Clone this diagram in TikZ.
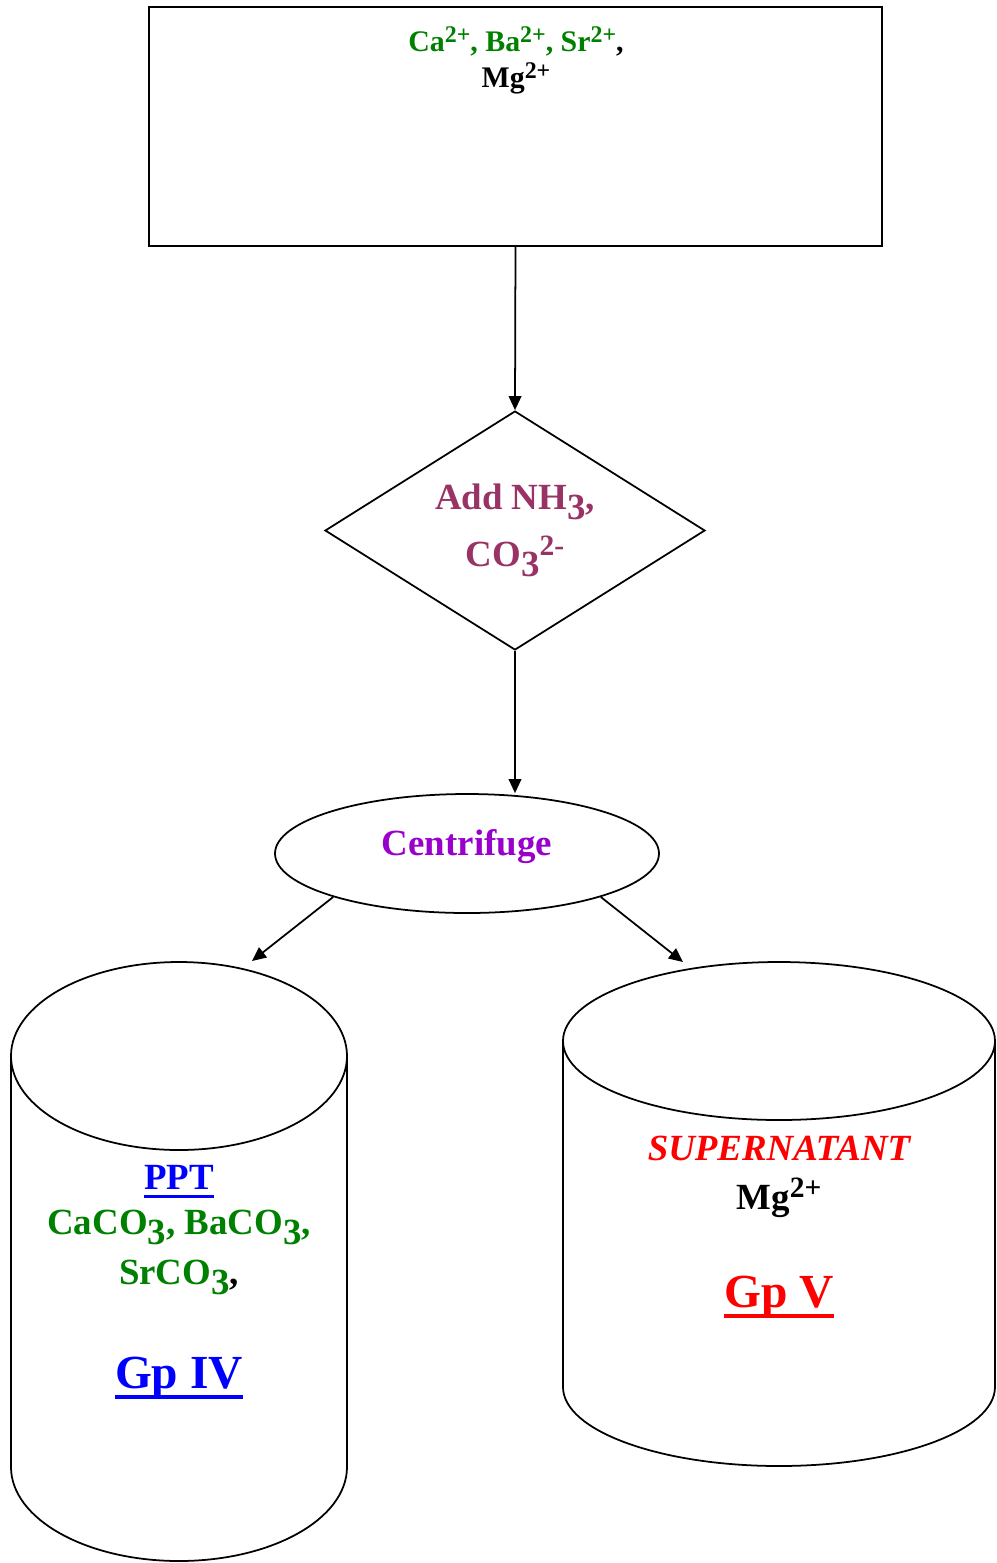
\documentclass[tikz,border=0pt]{standalone}
\usepackage{fontspec}
\setmainfont{Liberation Serif}
\usetikzlibrary{positioning,arrows.meta,shapes.geometric}
\definecolor{iongreen}{HTML}{008000}
\definecolor{reagplum}{HTML}{993366}
\definecolor{spinviolet}{HTML}{9900CC}
\definecolor{pptblue}{HTML}{0000FF}
\definecolor{supred}{HTML}{FF0000}
% lowered / raised charges and counts
\newcommand{\chsub}[1]{\raisebox{-0.28em}{#1}}
\newcommand{\chsup}[1]{\raisebox{0.3em}{\scalebox{0.8}{#1}}}
\newcommand{\thickul}[1]{\leavevmode\setbox0\hbox{#1}\rlap{\rule[-0.23em]{\wd0}{0.08em}}\box0}

\begin{document}
\begin{tikzpicture}[font=\bfseries, line width=0.5pt,
  flow/.style={-{Triangle[length=4pt,width=3.6pt]}},
  lbl/.style={anchor=base, inner sep=0pt}]
\useasboundingbox (0,0) rectangle (9.97,-15.63);
% sample and reagent
\node[draw, minimum width=7.33cm, minimum height=2.39cm] (sample) at (5.155,-1.265) {};
\node[lbl, font=\fontsize{8.5}{10}\bfseries, text=iongreen] (ionsa) at (5.16,-0.51)
  {Ca\chsup{2+}, Ba\chsup{2+}, Sr\chsup{2+}\textcolor{black}{,}};
\node[lbl, font=\fontsize{8.5}{10}\bfseries] (ionsb) at (5.16,-0.87) {Mg\chsup{2+}};
\node[draw, diamond, aspect=1.6, minimum width=3.8cm, minimum height=2.39cm, inner sep=0pt,
  align=center, text=reagplum, font=\fontsize{10.5}{16.2}\bfseries] (reagent) at (5.15,-5.305)
  {Add NH\chsub{3},\\CO\chsub{3}\chsup{2-}};
\node[draw, ellipse, minimum width=3.84cm, minimum height=1.19cm, inner sep=0pt,
  text height=0.26cm, text depth=0.22cm,
  text=spinviolet, font=\fontsize{10.5}{12}\bfseries] (spin) at (4.67,-8.535) {Centrifuge};
\coordinate (ppttop) at (2.52,-9.61);
\coordinate (suptop) at (6.83,-9.62);
\draw[flow] (sample.south) -- (reagent.north);
\draw[flow] (reagent.south) -- (spin.north -| reagent.south);
\draw[flow] (spin.198) -- (ppttop);
\draw[flow] (spin.342) -- (suptop);
% left cylinder (precipitate)
\draw (1.79,-10.56) ellipse [x radius=1.68, y radius=0.94];
\draw (0.11,-10.56) -- (0.11,-14.67) arc[start angle=180, end angle=360, x radius=1.68, y radius=0.94] -- (3.47,-10.56);
\node[lbl, font=\fontsize{10.5}{12}\bfseries, text=pptblue] (pptlbl) at (1.79,-11.89) {\thickul{PPT}};
\node[lbl, font=\fontsize{10.5}{12}\bfseries, text=iongreen] (pptsalts) at (1.79,-12.34) {CaCO\chsub{3}, BaCO\chsub{3},};
\node[lbl, font=\fontsize{10.5}{12}\bfseries, text=iongreen] (pptsr) at (1.79,-12.84) {SrCO\chsub{3}\textcolor{black}{,}};
\node[lbl, font=\fontsize{13.5}{15}\bfseries, text=pptblue] (gpiv) at (1.79,-13.88) {\thickul{Gp IV}};
% right cylinder (supernatant)
\draw (7.79,-10.41) ellipse [x radius=2.16, y radius=0.79];
\draw (5.63,-10.41) -- (5.63,-13.87) arc[start angle=180, end angle=360, x radius=2.16, y radius=0.79] -- (9.95,-10.41);
\node[lbl, font=\fontsize{10.5}{12}\bfseries\itshape, text=supred] (suplbl) at (7.79,-11.60) {SUPERNATANT};
\node[lbl, font=\fontsize{10.5}{12}\bfseries] (supmg) at (7.79,-12.09) {Mg\chsup{2+}};
\node[lbl, font=\fontsize{13.5}{15}\bfseries, text=supred] (gpv) at (7.79,-13.07) {\thickul{Gp V}};
\end{tikzpicture}
\end{document}
